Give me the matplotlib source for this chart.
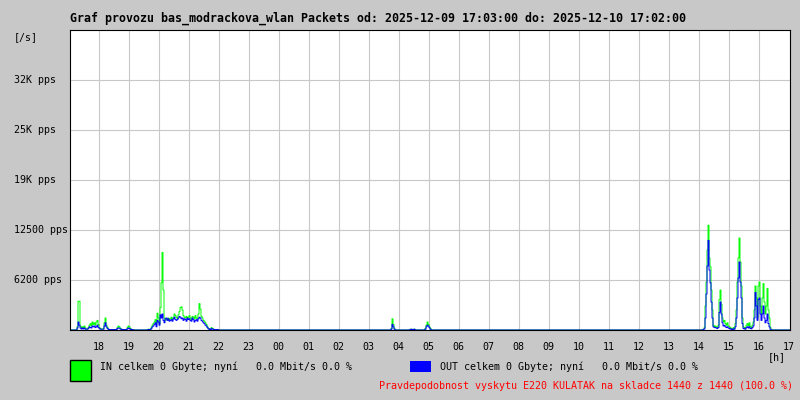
import numpy as np
import matplotlib
matplotlib.use("Agg")
import matplotlib.pyplot as plt

# graf od 17:03, vzorek po 2 minutach (720 vzorku = 24 h)
start_label = "17:03"
step_min = 2
n_samples = 720

# aktivni useky: zacatek (HH:MM), IN [pps], OUT [pps]
seg_a_start = "17:15"
seg_a_in = [0, 400, 3600, 3600, 500, 250, 400, 200, 500, 250, 100, 100, 300, 600,
            800, 500, 1000, 700, 900, 600, 1000, 1200, 700, 300, 200, 100, 100, 200,
            900, 1500, 600, 300, 100, 50, 50, 50, 50, 50, 50, 50, 50, 300, 500, 400,
            200, 100, 50, 50, 50, 50, 50, 300, 500, 400, 200, 100, 50, 0]
seg_a_out = [0, 250, 1000, 600, 250, 125, 250, 125, 250, 125, 100, 100, 200, 400,
             300, 250, 500, 400, 500, 300, 400, 600, 300, 200, 100, 100, 100, 100,
             500, 900, 400, 200, 100, 50, 50, 50, 50, 50, 50, 50, 50, 200, 250, 250,
             100, 100, 50, 50, 50, 50, 50, 150, 250, 200, 100, 50, 50, 0]

seg_b_start = "19:39"
seg_b_in = [100, 100, 100, 300, 600, 800, 1000, 1300, 700, 2100, 1500, 800, 2800,
            5900, 9700, 5000, 1500, 1200, 1400, 1300, 1500, 1300, 1400, 1600, 1300,
            1500, 2000, 1800, 1600, 1400, 1900, 2300, 2800, 2900, 2500, 1800, 1600,
            1500, 1700, 1400, 1600, 1800, 1500, 1300, 1700, 1600, 1400, 1800, 1500,
            1400, 2000, 3300, 2600, 1700, 1500, 1200, 1100, 900, 700, 400, 200, 100,
            50, 300, 200, 100, 50, 50, 50, 50, 0]
seg_b_out = [50, 50, 50, 200, 400, 500, 700, 900, 400, 1200, 1000, 600, 1900,
             1500, 2000, 1200, 900, 1400, 1500, 1200, 1400, 1100, 1200, 1300, 1100,
             1400, 1600, 1300, 1200, 1300, 1500, 1700, 1600, 1400, 1500, 1200, 1400,
             1300, 1100, 1500, 1300, 1400, 1200, 1100, 1500, 1300, 1000, 1200, 1300,
             1100, 1400, 1600, 1500, 1200, 1100, 900, 800, 600, 500, 300, 150, 100,
             50, 200, 100, 100, 50, 50, 50, 50, 0]

seg_c_start = "03:43"
seg_c_in = [0, 200, 1400, 700, 200, 0]
seg_c_out = [0, 100, 700, 400, 100, 0]

seg_d_start = "04:23"
seg_d_in = [100, 100, 0, 100, 100, 0]
seg_d_out = [50, 100, 0, 50, 100, 0]

seg_e_start = "04:51"
seg_e_in = [0, 200, 600, 1000, 700, 400, 200, 0]
seg_e_out = [0, 100, 400, 600, 500, 300, 100, 0]

seg_f_start = "14:09"
seg_f_in = [100, 300, 3000, 6000, 10000, 13100, 9000, 7900, 5000, 2500, 600, 400,
            500, 400, 300, 600, 3800, 5000, 3200, 1500, 1000, 1200, 800, 600, 900,
            500, 400, 300, 200, 100, 300, 200, 800, 2500, 6000, 9000, 11500, 8500,
            5500, 1500, 400, 300, 200, 600, 800, 500, 900, 400, 300, 600, 1000,
            2500, 5500, 4000, 1500, 5500, 6000, 3000, 2000, 4000, 5800, 3500, 2000,
            3000, 5200, 2500, 1500, 300, 0]
seg_f_out = [50, 150, 1500, 4500, 8000, 11200, 7500, 5900, 3500, 1500, 400, 300,
             300, 250, 200, 300, 2200, 3500, 2000, 900, 500, 600, 400, 300, 400,
             250, 200, 150, 100, 50, 150, 100, 400, 1500, 4000, 6500, 8500, 6000,
             4000, 800, 200, 150, 100, 300, 400, 250, 400, 200, 150, 300, 500,
             1500, 4700, 3000, 1200, 3800, 4000, 2000, 1200, 2000, 3000, 1500, 900,
             1200, 2000, 800, 400, 100, 0]

segments = [(seg_a_start, seg_a_in, seg_a_out), (seg_b_start, seg_b_in, seg_b_out),
            (seg_c_start, seg_c_in, seg_c_out), (seg_d_start, seg_d_in, seg_d_out),
            (seg_e_start, seg_e_in, seg_e_out), (seg_f_start, seg_f_in, seg_f_out)]

hour_labels = ["18", "19", "20", "21", "22", "23", "00", "01", "02", "03", "04",
               "05", "06", "07", "08", "09", "10", "11", "12", "13", "14", "15",
               "16", "17"]
y_ticks = [6250, 12500, 18750, 25000, 31250]
y_labels = ["6200 pps", "12500 pps", "19K pps", "25K pps", "32K pps"]
y_max = 37500

title = "Graf provozu bas_modrackova_wlan Packets od: 2025-12-09 17:03:00 do: 2025-12-10 17:02:00"
in_text = "IN celkem 0 Gbyte; nyní   0.0 Mbit/s 0.0 %"
out_text = "OUT celkem 0 Gbyte; nyní   0.0 Mbit/s 0.0 %"
note = "Pravdepodobnost vyskytu E220 KULATAK na skladce 1440 z 1440 (100.0 %)"


def minutes_from_start(hhmm):
    h, m = map(int, hhmm.split(":"))
    h0, m0 = map(int, start_label.split(":"))
    return ((h * 60 + m) - (h0 * 60 + m0)) % 1440


t = np.arange(n_samples + 1) * step_min
vin = np.zeros(n_samples + 1)
vout = np.zeros(n_samples + 1)
for s, a, b in segments:
    i0 = minutes_from_start(s) // step_min
    vin[i0:i0 + len(a)] = a
    vout[i0:i0 + len(b)] = b

bg = "#c8c8c8"
mono = "DejaVu Sans Mono"
fs = 7.2
fig = plt.figure(figsize=(8, 4), dpi=100, facecolor=bg)
ax = fig.add_axes([70 / 800, 70 / 400, 720 / 800, 300 / 400])
ax.set_facecolor("white")

ax.step(t, vin, where="post", color="#00ff00", lw=0.7)
ax.step(t, vout, where="post", color="#0000ff", lw=0.7)

ax.set_xlim(0, 1440)
ax.set_ylim(0, y_max)

hour_pos = [minutes_from_start(h + ":00") for h in hour_labels]
for x in hour_pos[:-1]:
    ax.axvline(x, color="#c8c8c8", lw=0.8, zorder=0)
for y in y_ticks:
    ax.axhline(y, color="#c8c8c8", lw=0.8, zorder=0)

ax.set_xticks([])
ax.set_yticks([])
for sp in ax.spines.values():
    sp.set_color("black")
    sp.set_linewidth(0.8)

for lab, x in zip(hour_labels, hour_pos):
    ax.text(x, -0.057, lab, transform=ax.get_xaxis_transform(), ha="center",
            va="center", family=mono, fontsize=fs)
for lab, y in zip(y_labels, y_ticks):
    fig.text(14 / 800, 1 - (330 - y / y_max * 300) / 400, lab, ha="left",
             va="center", family=mono, fontsize=fs)

fig.text(14 / 800, 1 - 37 / 400, "[/s]", ha="left", va="center", family=mono, fontsize=fs)
fig.text(786 / 800, 1 - 357 / 400, "[h]", ha="right", va="center", family=mono, fontsize=fs)
fig.text(70 / 800, 1 - 18 / 400, title, ha="left", va="center", family=mono,
         fontsize=8.4, fontweight="bold")

fig.patches.append(plt.Rectangle((70 / 800, 1 - 381 / 400), 21 / 800, 21 / 400,
                                 transform=fig.transFigure, facecolor="#00ff00",
                                 edgecolor="black", lw=1))
fig.patches.append(plt.Rectangle((410 / 800, 1 - 372 / 400), 21 / 800, 11 / 400,
                                 transform=fig.transFigure, facecolor="#0000ff",
                                 edgecolor="none"))
fig.text(100 / 800, 1 - 367 / 400, in_text, ha="left", va="center", family=mono, fontsize=fs)
fig.text(440 / 800, 1 - 367 / 400, out_text, ha="left", va="center", family=mono, fontsize=fs)
fig.text(793 / 800, 1 - 386 / 400, note, ha="right", va="center", family=mono,
         fontsize=fs, color="red")

fig.savefig("out.png", dpi=100, facecolor=bg)
